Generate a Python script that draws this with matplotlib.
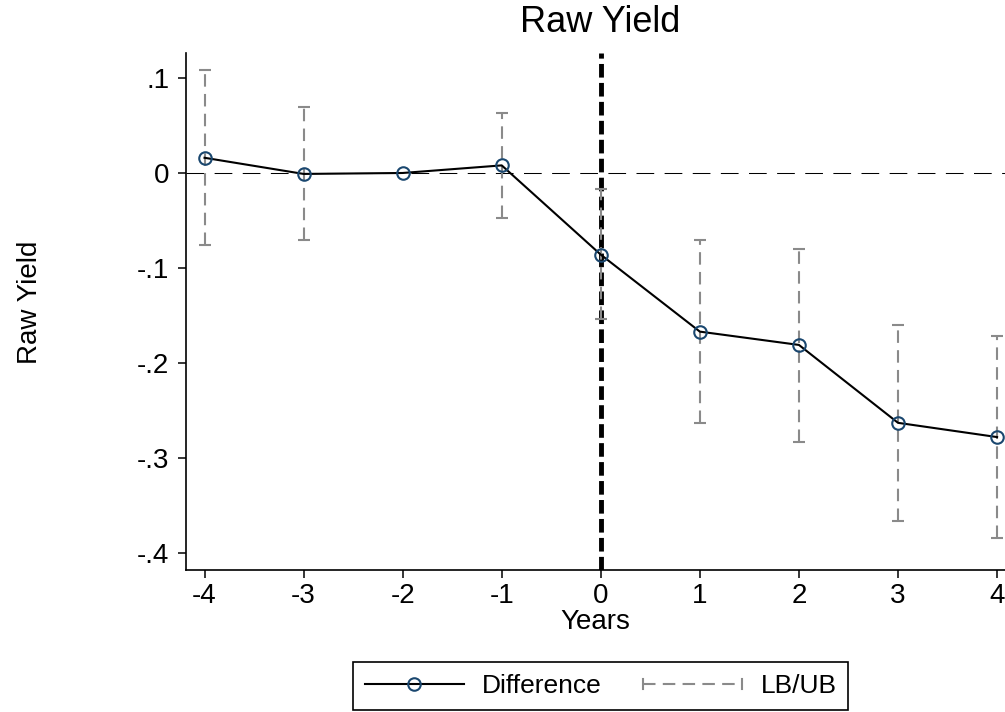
import numpy as np
import matplotlib
matplotlib.use('Agg')
import matplotlib.pyplot as plt
from matplotlib.lines import Line2D
from matplotlib.legend_handler import HandlerBase

plt.rcParams['font.family'] = ['Liberation Sans', 'DejaVu Sans']

# Event-study estimates
years = [-4, -3, -2, -1, 0, 1, 2, 3, 4]
diff = [0.016, -0.001, 0.0, 0.008, -0.086, -0.167, -0.181, -0.263, -0.278]
lb = [-0.076, -0.0705, np.nan, -0.047, -0.154, -0.263, -0.2835, -0.366, -0.384]
ub = [0.108, 0.069, np.nan, 0.063, -0.017, -0.071, -0.080, -0.160, -0.172]
yticks = [0.1, 0.0, -0.1, -0.2, -0.3, -0.4]
ytick_labels = ['.1', '0', '-.1', '-.2', '-.3', '-.4']

navy = '#1a476f'
gray = '#8a8a8a'

fig = plt.figure(figsize=(10.05, 7.12), dpi=100)
ax = fig.add_axes([186 / 1005, 1 - 569.5 / 712, 1 - 186 / 1005, (569.5 - 53) / 712])

# reference lines
ax.axhline(0, color='black', lw=0.75, linestyle=(0, (17, 10)), zorder=1)
ax.axvline(0, color='black', lw=3.5, linestyle=(0, (2.8, 1.1)), zorder=1)

# confidence bounds as dashed capped ranges
yrs = np.array(years, dtype=float)
lo = np.array(lb)
hi = np.array(ub)
mid = (lo + hi) / 2
err = np.vstack([mid - lo, hi - mid])
ok = ~np.isnan(lo)
eb = ax.errorbar(yrs[ok], mid[ok], yerr=err[:, ok], fmt='none', ecolor=gray,
                 elinewidth=1.5, capsize=4, capthick=1.5, zorder=2)
for c in eb[2]:
    c.set_linestyle((0, (6, 3.5)))

# point estimates
ax.plot(years, diff, color='black', lw=1.5, marker='o', markersize=9,
        markerfacecolor='none', markeredgecolor=navy, markeredgewidth=1.5, zorder=3)

ax.set_xlim(-4.187, 4.08)
ax.set_ylim(-0.4174, 0.1263)
ax.set_xticks(years)
ax.set_xticklabels([str(y) for y in years])
ax.set_yticks(yticks)
ax.set_yticklabels(ytick_labels)
for s in ['top', 'right']:
    ax.spines[s].set_visible(False)
for s in ['left', 'bottom']:
    ax.spines[s].set_linewidth(1.2)
ax.tick_params(axis='both', direction='out', length=6, width=1.1, labelsize=20)
ax.tick_params(axis='y', pad=6)
ax.tick_params(axis='x', pad=4)
ax.set_xlabel('Years', fontsize=20, labelpad=0)

fig.text(600 / 1005, 1 - 22 / 712, 'Raw Yield', ha='center', va='center', fontsize=26)
fig.text(30 / 1005, 1 - 302 / 712, 'Raw Yield', ha='center', va='center',
         rotation=90, fontsize=20)


class CapRangeHandler(HandlerBase):
    def create_artists(self, legend, orig_handle, xdescent, ydescent,
                       width, height, fontsize, trans):
        y = height / 2 - ydescent
        x0, x1 = -xdescent, width - xdescent
        h = 3.5
        line = Line2D([x0, x1], [y, y], color=gray, lw=1.5, linestyle=(0, (6, 3.5)))
        c1 = Line2D([x0, x0], [y - h, y + h], color=gray, lw=1.5)
        c2 = Line2D([x1, x1], [y - h, y + h], color=gray, lw=1.5)
        for a in (line, c1, c2):
            a.set_transform(trans)
        return [line, c1, c2]


h_diff = Line2D([], [], color='black', lw=1.5, marker='o', markersize=9,
                markerfacecolor='none', markeredgecolor=navy, markeredgewidth=1.5)
h_ci = Line2D([], [], color=gray)
leg = fig.legend([h_diff, h_ci], ['Difference', 'LB/UB'], ncol=2,
                 loc='upper center', bbox_to_anchor=(600.5 / 1005, 1 - 662 / 712),
                 bbox_transform=fig.transFigure, fontsize=19, frameon=True,
                 fancybox=False, framealpha=1, edgecolor='black', borderaxespad=0,
                 handlelength=3.75, handletextpad=0.68, columnspacing=1.6,
                 borderpad=0.45, numpoints=1,
                 handler_map={h_ci: CapRangeHandler()})
leg.get_frame().set_linewidth(1.2)

fig.savefig('out.png', dpi=100)
